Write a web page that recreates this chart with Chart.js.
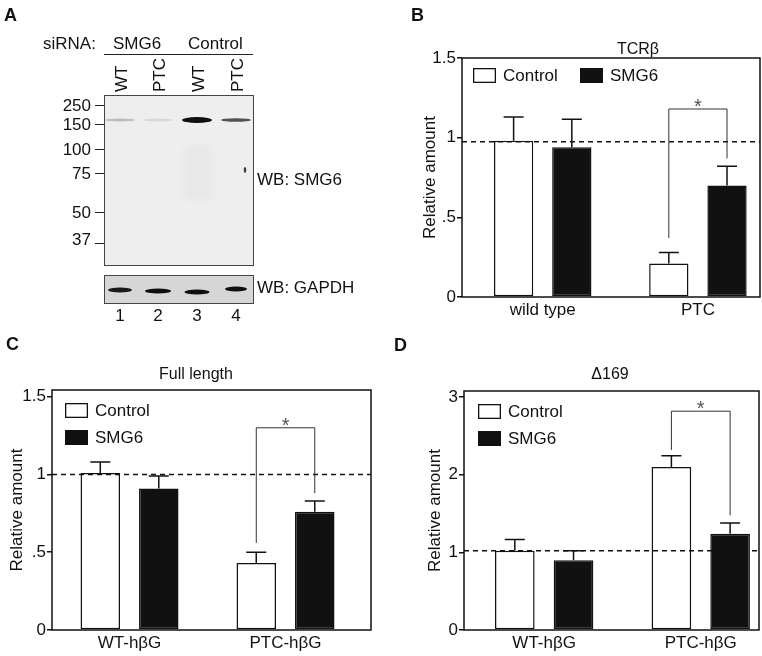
<!DOCTYPE html>
<html lang="en">
<head>
<meta charset="UTF-8">
<title>SMG6 knockdown</title>
<script src="https://cdn.jsdelivr.net/npm/chart.js@4.4.1/dist/chart.umd.min.js"></script>
<style>
  body { margin: 0; background: #fff; }
  #fig { position: relative; width: 762px; height: 656px; overflow: hidden; }
  canvas { position: absolute; }
</style>
</head>
<body>
<div id="fig">
  <canvas id="blot" width="380" height="330" style="left:0;top:0"></canvas>
  <canvas id="chartB" width="382" height="330" style="left:380px;top:0"></canvas>
  <canvas id="chartC" width="380" height="326" style="left:0;top:330px"></canvas>
  <canvas id="chartD" width="382" height="326" style="left:380px;top:330px"></canvas>
</div>
<script>
// ---- panel A (western blot) ----
const laneNumbers = ['1', '2', '3', '4'];
const laneLabels = ['WT', 'PTC', 'WT', 'PTC'];
const mwMarkers = ['250', '150', '100', '75', '50', '37'];
const smg6Band = [0.22, 0.1, 1, 0.7];      // band darkness per lane
const gapdhBand = [0.95, 1, 1, 1];

// ---- panel B: TCRβ ----
const groupsB = ['wild type', 'PTC'];
const controlB = [0.98, 0.21];
const controlSemB = [0.15, 0.07];
const smg6B = [0.94, 0.70];
const smg6SemB = [0.175, 0.12];
const yTicksB = [0, 0.5, 1, 1.5];
const yLabelsB = ['0', '.5', '1', '1.5'];

// ---- panel C: Full length ----
const groupsC = ['WT-hβG', 'PTC-hβG'];
const controlC = [1.01, 0.43];
const controlSemC = [0.07, 0.07];
const smg6C = [0.91, 0.76];
const smg6SemC = [0.08, 0.07];
const yTicksC = [0, 0.5, 1, 1.5];
const yLabelsC = ['0', '.5', '1', '1.5'];

// ---- panel D: Δ169 ----
const groupsD = ['WT-hβG', 'PTC-hβG'];
const controlD = [1.02, 2.10];
const controlSemD = [0.145, 0.145];
const smg6D = [0.90, 1.24];
const smg6SemD = [0.12, 0.14];
const yTicksD = [0, 1, 2, 3];
const yLabelsD = ['0', '1', '2', '3'];

const FONT = "'Liberation Sans', Arial, sans-serif";
const INK = '#111';
Chart.defaults.font.family = FONT;
Chart.defaults.color = INK;

function drawBlot() {
  const ctx = document.getElementById('blot').getContext('2d');
  const laneX = [120, 158, 197, 236];
  const mwY = [105, 124, 149, 173, 212, 243];

  ctx.fillStyle = INK;
  ctx.font = 'bold 18px ' + FONT;
  ctx.fillText('A', 4, 21);

  ctx.font = '17px ' + FONT;
  ctx.fillText('siRNA:', 43, 49);
  ctx.fillText('SMG6', 113, 49);
  ctx.fillText('Control', 188, 49);
  ctx.strokeStyle = '#222';
  ctx.lineWidth = 1.2;
  ctx.beginPath(); ctx.moveTo(104, 54.5); ctx.lineTo(253, 54.5); ctx.stroke();

  laneLabels.forEach((t, i) => {
    ctx.save();
    ctx.translate(laneX[i] + 7, 92);
    ctx.rotate(-Math.PI / 2);
    ctx.textAlign = 'left';
    ctx.fillText(t, 0, 0);
    ctx.restore();
  });

  // SMG6 blot
  ctx.fillStyle = '#eeeeee';
  ctx.fillRect(104, 95, 149, 170);
  // faint smear in lane 3
  ctx.save();
  ctx.filter = 'blur(3px)';
  ctx.fillStyle = 'rgba(0,0,0,0.025)';
  ctx.fillRect(184, 145, 28, 55);
  ctx.restore();
  ctx.strokeStyle = '#444';
  ctx.lineWidth = 1;
  ctx.strokeRect(104.5, 95.5, 149, 170);

  const band = (cx, cy, w, h, a) => {
    ctx.save();
    ctx.filter = 'blur(0.7px)';
    ctx.fillStyle = 'rgba(15,15,15,' + a + ')';
    ctx.beginPath();
    ctx.ellipse(cx, cy, w / 2, h / 2, 0, 0, Math.PI * 2);
    ctx.fill();
    ctx.restore();
  };
  const bandH = [3, 3, 6, 3.5];
  smg6Band.forEach((a, i) => band(laneX[i], 120, 30, bandH[i], a));
  band(245, 170, 2.5, 6, 0.8);

  // MW markers
  ctx.fillStyle = INK;
  ctx.textAlign = 'right';
  ctx.textBaseline = 'middle';
  ctx.strokeStyle = '#222';
  mwMarkers.forEach((m, i) => {
    ctx.fillText(m, 91, mwY[i] + (i === 5 ? -3 : 1));
    ctx.beginPath(); ctx.moveTo(95, mwY[i] + 0.5); ctx.lineTo(104, mwY[i] + 0.5); ctx.stroke();
  });

  // GAPDH blot
  ctx.fillStyle = '#d6d6d6';
  ctx.fillRect(104, 275, 149, 28);
  ctx.strokeStyle = '#444';
  ctx.strokeRect(104.5, 275.5, 149, 28);
  const gY = [290, 291, 292, 289];
  const gW = [24, 26, 25, 22];
  gapdhBand.forEach((a, i) => band(laneX[i], gY[i], gW[i], 5, a));

  ctx.fillStyle = INK;
  ctx.textAlign = 'left';
  ctx.textBaseline = 'alphabetic';
  ctx.fillText('WB: SMG6', 257, 185);
  ctx.fillText('WB: GAPDH', 257, 293);
  ctx.textAlign = 'center';
  laneNumbers.forEach((n, i) => ctx.fillText(n, laneX[i], 321));
}

const decor = {
  id: 'decor',
  afterDatasetsDraw(chart, args, o) {
    const {ctx, chartArea: a} = chart;
    const y = chart.scales.y;
    ctx.save();
    ctx.strokeStyle = INK;
    ctx.lineWidth = 1.5;

    // upper error bars
    chart.data.datasets.forEach((ds, di) => {
      chart.getDatasetMeta(di).data.forEach((bar, i) => {
        const yt = y.getPixelForValue(ds.data[i].y + ds.sem[i]);
        ctx.beginPath();
        ctx.moveTo(bar.x, bar.y);
        ctx.lineTo(bar.x, yt);
        ctx.moveTo(bar.x - 10, yt);
        ctx.lineTo(bar.x + 10, yt);
        ctx.stroke();
      });
    });

    // dashed reference line
    const yr = y.getPixelForValue(o.refLine);
    ctx.setLineDash([5, 4]);
    ctx.beginPath();
    ctx.moveTo(a.left, yr);
    ctx.lineTo(a.right, yr);
    ctx.stroke();
    ctx.setLineDash([]);

    // significance bracket
    const b1 = chart.getDatasetMeta(0).data[o.bracketGroup];
    const b2 = chart.getDatasetMeta(1).data[o.bracketGroup];
    const yt = y.getPixelForValue(o.bracket[1]);
    ctx.lineWidth = 1;
    ctx.strokeStyle = '#333';
    ctx.beginPath();
    ctx.moveTo(b1.x, y.getPixelForValue(o.bracket[0]));
    ctx.lineTo(b1.x, yt);
    ctx.lineTo(b2.x, yt);
    ctx.lineTo(b2.x, y.getPixelForValue(o.bracket[2]));
    ctx.stroke();
    ctx.fillStyle = '#555';
    ctx.font = '20px ' + FONT;
    ctx.textAlign = 'center';
    ctx.textBaseline = 'alphabetic';
    ctx.fillText('*', (b1.x + b2.x) / 2, yt + 4);

    // frame
    ctx.lineWidth = 1.5;
    ctx.strokeStyle = INK;
    ctx.strokeRect(a.left, a.top, a.right - a.left, a.bottom - a.top);

    // legend
    const lg = o.legend;
    ctx.font = '17px ' + FONT;
    ctx.textAlign = 'left';
    ctx.textBaseline = 'middle';
    chart.data.datasets.forEach((ds, i) => {
      const bx = a.left + lg.dx + (lg.row ? i * 107 : 0);
      const by = a.top + lg.dy + (lg.row ? 0 : i * 27);
      ctx.fillStyle = ds.backgroundColor;
      ctx.fillRect(bx, by, 23, 15);
      ctx.lineWidth = 1.3;
      ctx.strokeRect(bx + 0.65, by + 0.65, 21.7, 13.7);
      ctx.fillStyle = INK;
      ctx.fillText(ds.label, bx + 30, by + 8);
    });

    // title and panel letter
    ctx.textAlign = 'center';
    ctx.font = '16px ' + FONT;
    ctx.fillText(o.title.text, o.title.x, o.title.y);
    ctx.textAlign = 'left';
    ctx.textBaseline = 'alphabetic';
    ctx.font = 'bold 18px ' + FONT;
    ctx.fillText(o.letter.text, o.letter.x, o.letter.y);
    ctx.restore();
  }
};

function barChart(id, p) {
  const toPts = arr => arr.map((v, i) => ({x: i, y: v}));
  const barOpts = {borderColor: INK, borderWidth: 1.5, borderSkipped: false,
    categoryPercentage: 0.75, barPercentage: 0.675};
  return new Chart(document.getElementById(id), {
    type: 'bar',
    data: {
      datasets: [
        Object.assign({label: 'Control', data: toPts(p.control), sem: p.controlSem, backgroundColor: '#ffffff'}, barOpts),
        Object.assign({label: 'SMG6', data: toPts(p.smg6), sem: p.smg6Sem, backgroundColor: INK}, barOpts)
      ]
    },
    options: {
      responsive: false,
      animation: false,
      events: [],
      layout: {padding: p.pad},
      plugins: {
        legend: {display: false},
        tooltip: {enabled: false},
        decor: p.decor
      },
      scales: {
        x: {
          type: 'linear',
          offset: false,
          min: p.xMin,
          max: p.xMax,
          grid: {display: false, offset: false, drawTicks: false, tickLength: 0},
          border: {display: false},
          afterBuildTicks: s => { s.ticks = p.groups.map((g, i) => ({value: i})); },
          afterFit: s => { s.height = 26; },
          ticks: {font: {size: 17}, color: INK, padding: 3, callback: v => p.groups[v]}
        },
        y: {
          min: 0,
          max: p.yMax,
          afterBuildTicks: s => { s.ticks = p.yTicks.map(v => ({value: v})); },
          afterFit: s => { s.width = p.yWidth; },
          ticks: {font: {size: 17}, color: INK, padding: 1, callback: (v, i) => p.yLabels[i]},
          grid: {drawOnChartArea: false, tickLength: 5, color: INK, lineWidth: 1.5},
          border: {display: false},
          title: {display: true, text: 'Relative amount', font: {size: 17}, color: INK, padding: 0}
        }
      }
    },
    plugins: [decor]
  });
}

drawBlot();

barChart('chartB', {
  groups: groupsB, control: controlB, controlSem: controlSemB, smg6: smg6B, smg6Sem: smg6SemB,
  yTicks: yTicksB, yLabels: yLabelsB, yMax: 1.5, xMin: -0.52, xMax: 1.40,
  pad: {left: 40, top: 58, right: 2, bottom: 7}, yWidth: 42,
  decor: {refLine: 0.975, bracketGroup: 1, bracket: [0.37, 1.18, 0.87],
    legend: {row: true, dx: 11, dy: 10},
    title: {text: 'TCRβ', x: 258, y: 50}, letter: {text: 'B', x: 31, y: 21}}
});

barChart('chartC', {
  groups: groupsC, control: controlC, controlSem: controlSemC, smg6: smg6C, smg6Sem: smg6SemC,
  yTicks: yTicksC, yLabels: yLabelsC, yMax: 1.543, xMin: -0.497, xMax: 1.548,
  pad: {left: 7, top: 60, right: 9, bottom: 0}, yWidth: 45,
  decor: {refLine: 1.0, bracketGroup: 1, bracket: [0.56, 1.30, 0.88],
    legend: {row: false, dx: 13, dy: 13},
    title: {text: 'Full length', x: 196, y: 45}, letter: {text: 'C', x: 6, y: 20}}
});

barChart('chartD', {
  groups: groupsD, control: controlD, controlSem: controlSemD, smg6: smg6D, smg6Sem: smg6SemD,
  yTicks: yTicksD, yLabels: yLabelsD, yMax: 3.08, xMin: -0.512, xMax: 1.372,
  pad: {left: 45, top: 61, right: 3, bottom: 0}, yWidth: 39,
  decor: {refLine: 1.02, bracketGroup: 1, bracket: [2.32, 2.82, 1.476],
    legend: {row: false, dx: 14, dy: 13},
    title: {text: 'Δ169', x: 230, y: 45}, letter: {text: 'D', x: 14, y: 21}}
});
</script>
</body>
</html>
